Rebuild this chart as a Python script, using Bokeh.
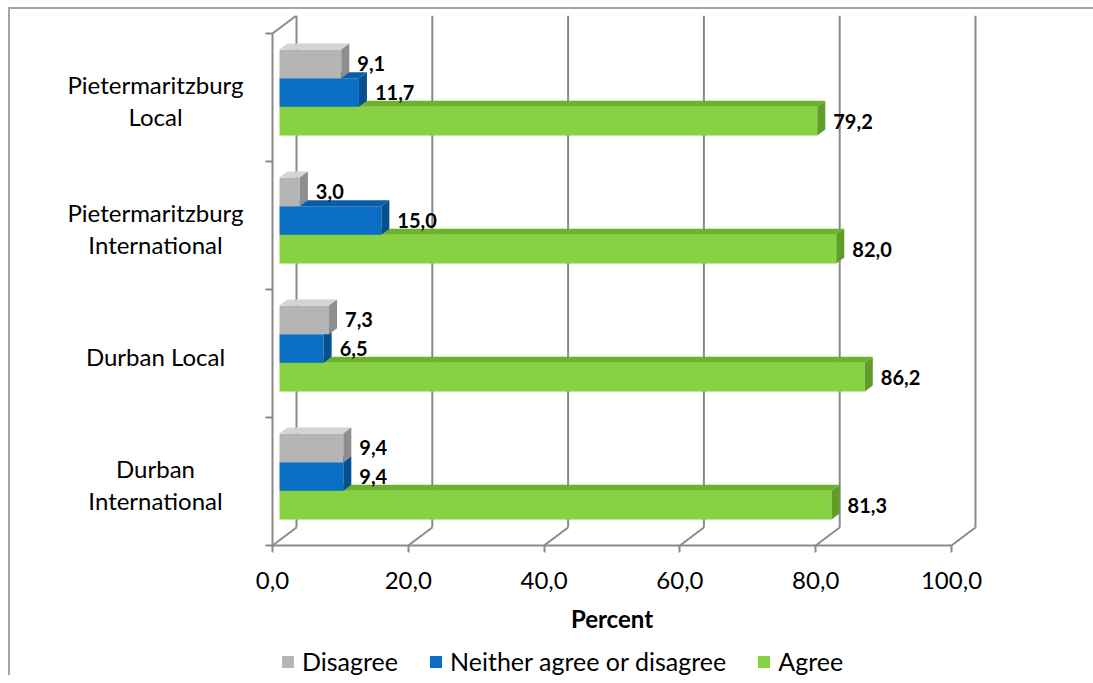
from bokeh.plotting import figure
from bokeh.models import (Range1d, FixedTicker, CustomJSTickFormatter,
                          Legend, LegendItem)
from bokeh.core.properties import value
from bokeh.embed import file_html
from bokeh.resources import INLINE

# ---- data -------------------------------------------------------------
categories = ["Durban\nInternational", "Durban Local",
              "Pietermaritzburg\nInternational", "Pietermaritzburg\nLocal"]
series_names = ["Disagree", "Neither agree or disagree", "Agree"]
disagree = [9.4, 7.3, 3.0, 9.1]
neither = [9.4, 6.5, 15.0, 11.7]
agree = [81.3, 86.2, 82.0, 79.2]
x_ticks = [0, 20, 40, 60, 80, 100]
x_title = "Percent"

# ---- layout / style ---------------------------------------------------
FONT = "Lato"
PX_X = 6.79            # pixels per percent
PX_Y = 128.0           # pixels per category band
LABEL_ROOM = 232       # pixels left of the value axis kept for category names
FOOT_ROOM = 130        # pixels under the floor for tick labels, title and legend
FRAME_W = LABEL_ROOM + 713
FRAME_H = 530 + FOOT_ROOM
X_MIN = -LABEL_ROOM / PX_X
X_MAX = X_MIN + FRAME_W / PX_X
Y_MIN = -FOOT_ROOM / PX_Y
Y_MAX = Y_MIN + FRAME_H / PX_Y


def dx(px):
    return px / PX_X


def dy(px):
    return px / PX_Y


WALL_DX, WALL_DY = dx(24), dy(18)      # depth of the back wall
BAR_X0, BAR_LIFT = dx(7), dy(5)        # bars sit a little inside the box
BAR_DX, BAR_DY = dx(8), dy(6)          # depth of each bar
BAR_H = dy(28.7)
GRID = "#8a8a8a"

styles = {
    "Disagree": ("#b5b5b5", "#d4d4d4", "#8e8e8e"),
    "Neither agree or disagree": ("#0b6ec5", "#0a5ca6", "#075090"),
    "Agree": ("#86d242", "#6cb22f", "#5e9e27"),
}


def fmt(v):
    return f"{v:.1f}".replace(".", ",")


p = figure(frame_width=FRAME_W, frame_height=FRAME_H,
           x_range=Range1d(X_MIN, X_MAX), y_range=Range1d(Y_MIN, Y_MAX),
           output_backend="svg", toolbar_location=None,
           min_border_left=30, min_border_right=108,
           min_border_top=6, min_border_bottom=0,
           margin=(7, 0, 0, 8))
p.styles = {"border-left": "2px solid #a5a5a5", "border-top": "2px solid #a5a5a5"}
p.outline_line_color = None
p.xgrid.visible = False
p.ygrid.visible = False

# ---- box walls (back grid, floor diagonals) -------------------------
n_cat = len(categories)
back_x = [t + WALL_DX for t in x_ticks]
p.segment(x0=back_x, y0=[WALL_DY] * len(x_ticks), x1=back_x, y1=[n_cat + WALL_DY] * len(x_ticks),
          line_color=GRID, line_width=2)
p.segment(x0=x_ticks, y0=[0] * len(x_ticks), x1=back_x, y1=[WALL_DY] * len(x_ticks),
          line_color=GRID, line_width=2)
p.segment(x0=[0], y0=[n_cat], x1=[WALL_DX], y1=[n_cat + WALL_DY],
          line_color=GRID, line_width=2)

# ---- 3-D bars ---------------------------------------------------------
front_renderers = {}
stack = [("Agree", agree), ("Neither agree or disagree", neither), ("Disagree", disagree)]
for k, (name, vals) in enumerate(stack):
    front, top_c, side_c = styles[name]
    yc = [i + 0.5 + BAR_LIFT + (k - 1) * BAR_H for i in range(n_cat)]
    bot = [y - BAR_H / 2 for y in yc]
    top = [y + BAR_H / 2 for y in yc]
    right = [BAR_X0 + v for v in vals]
    r = p.quad(left=[BAR_X0] * n_cat, right=right, bottom=bot, top=top,
               fill_color=front, line_color=None)
    front_renderers[name] = r
    p.patches(xs=[[BAR_X0, rr, rr + BAR_DX, BAR_X0 + BAR_DX] for rr in right],
              ys=[[t, t, t + BAR_DY, t + BAR_DY] for t in top],
              fill_color=top_c, line_color=None)
    p.patches(xs=[[rr, rr + BAR_DX, rr + BAR_DX, rr] for rr in right],
              ys=[[b, b + BAR_DY, t + BAR_DY, t] for b, t in zip(bot, top)],
              fill_color=side_c, line_color=None)
    p.text(x=[rr + BAR_DX + dx(8) for rr in right], y=yc, text=[fmt(v) for v in vals],
           text_font=value(FONT), text_font_style="bold", text_font_size="20px",
           text_baseline="middle", text_align="left", text_color="#000000")

# ---- category names, centred lines left of the value axis -----------
cat_x, cat_y, cat_text = [], [], []
for i, cat in enumerate(categories):
    lines = cat.split("\n")
    yc = i + 0.5 - dy(3)
    for j, line in enumerate(lines):
        cat_x.append(-dx(117))
        cat_y.append(yc + ((len(lines) - 1) / 2 - j) * dy(32))
        cat_text.append(line)
p.text(x=cat_x, y=cat_y, text=cat_text, text_font=value(FONT), text_font_size="24px",
       text_align="center", text_baseline="middle", text_color="#000000")

# ---- axes -------------------------------------------------------------
# floor edge of the box, ticks pointing down
xa = p.xaxis[0]
xa.fixed_location = 0
xa.ticker = FixedTicker(ticks=x_ticks)
xa.formatter = CustomJSTickFormatter(code="return '';")
xa.bounds = (0, 100)
xa.axis_line_color = GRID
xa.axis_line_width = 2
xa.major_tick_line_color = GRID
xa.major_tick_line_width = 2
xa.major_tick_out = 7
xa.major_tick_in = 0
xa.minor_tick_line_color = None
xa.major_label_standoff = 0
xa.major_label_text_font_size = "1px"

# tick values and axis title under the floor
p.text(x=x_ticks, y=[-dy(35)] * len(x_ticks), text=[fmt(t) for t in x_ticks],
       text_font=value(FONT), text_font_size="24px", text_align="center",
       text_baseline="middle", text_color="#000000")
p.text(x=[(x_ticks[0] + x_ticks[-1]) / 2], y=[-dy(73)], text=[x_title],
       text_font=value(FONT), text_font_size="24px", text_font_style="bold",
       text_align="center", text_baseline="middle", text_color="#000000")

# value-axis wall on the left, with ticks between the categories
ya = p.yaxis[0]
ya.fixed_location = 0
ya.ticker = FixedTicker(ticks=list(range(n_cat + 1)))
ya.formatter = CustomJSTickFormatter(code="return '';")
ya.bounds = (0, n_cat)
ya.axis_line_color = GRID
ya.axis_line_width = 2
ya.major_tick_line_color = GRID
ya.major_tick_line_width = 2
ya.major_tick_out = 7
ya.major_tick_in = 0
ya.minor_tick_line_color = None
ya.major_label_standoff = 0
ya.major_label_text_font_size = "1px"

# ---- legend -----------------------------------------------------------
legend = Legend(items=[LegendItem(label=n, renderers=[front_renderers[n]]) for n in series_names],
                orientation="horizontal", location=(LABEL_ROOM + 8, -1), padding=0, margin=0,
                spacing=30, glyph_width=15, glyph_height=15, label_standoff=7,
                label_text_font=FONT, label_text_font_size="25px",
                label_text_color="#000000", border_line_color=None,
                background_fill_alpha=0)
p.add_layout(legend)

open("out.html", "w").write(file_html(p, INLINE))
